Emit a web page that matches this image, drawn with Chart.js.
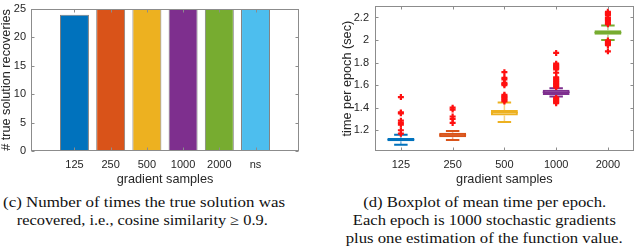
<!DOCTYPE html>
<html><head><meta charset="utf-8">
<script src="https://cdn.jsdelivr.net/npm/chart.js@4"></script>
<style>
html,body{margin:0;padding:0;background:#fff;width:640px;height:246px;overflow:hidden;position:relative}
canvas{position:absolute;top:0}
#c1{left:0}
#c2{left:320px}
.cap{position:absolute;white-space:nowrap;font-family:"Liberation Serif","Times New Roman",Times,serif;font-size:14.5px;color:#111;line-height:18px;height:18px}
</style></head><body>
<canvas id="c1" width="320" height="192"></canvas>
<canvas id="c2" width="320" height="192"></canvas>
<div id="caps"></div>
<script>
// ---------- data ----------
const barCategories = ['125','250','500','1000','2000','ns'];
const barValues = [24,25,25,25,25,25];
const barYTicks = [0,5,10,15,20,25];

const boxCategories = ['125','250','500','1000','2000'];
const boxQ1     = [1.102, 1.137, 1.330, 1.512, 2.046];
const boxMedian = [1.117, 1.158, 1.357, 1.537, 2.066];
const boxQ3     = [1.131, 1.177, 1.380, 1.560, 2.086];
const whiskerLo = [1.071, 1.114, 1.274, 1.500, 2.000];
const whiskerHi = [1.160, 1.194, 1.445, 1.572, 2.129];
const outliers125  = [1.170, 1.200, 1.250, 1.265, 1.285, 1.350, 1.358, 1.494];
const outliers250  = [1.265, 1.300, 1.322, 1.383, 1.400];
const outliers500  = [1.455, 1.465, 1.475, 1.485, 1.495, 1.505, 1.515, 1.600, 1.610, 1.620, 1.650, 1.665, 1.715];
const outliers1000 = [1.440, 1.450, 1.460, 1.470, 1.480, 1.490, 1.580, 1.590, 1.600, 1.610, 1.620, 1.630, 1.640, 1.650, 1.660, 1.670, 1.710, 1.740, 1.750, 1.760, 1.770, 1.780, 1.790, 1.886];
const outliers2000 = [1.900, 1.955, 1.965, 1.975, 1.985, 1.995, 2.140, 2.150, 2.170, 2.180, 2.190, 2.200, 2.220, 2.230, 2.240, 2.250];
const boxYTicks = [1.2, 1.4, 1.6, 1.8, 2, 2.2];

const captionLeft = ['(c) Number of times the true solution was', 'recovered, i.e., cosine similarity \u2265 0.9.'];
const captionRight = ['(d) Boxplot of mean time per epoch.', 'Each epoch is 1000 stochastic gradients', 'plus one estimation of the function value.'];

// ---------- styles ----------
const colors = ['#0072BD','#D95319','#EDB120','#7E2F8E','#77AC30','#4DBEEE'];
const textColor = '#262626';
const tickFont = {family:'"Liberation Sans", Arial, sans-serif', size:11};
const titleFont = {family:'"Liberation Sans", Arial, sans-serif', size:12.7, lineHeight:1};
function alpha(hex,a){const n=parseInt(hex.slice(1),16);return `rgba(${n>>16},${(n>>8)&255},${n&255},${a})`;}
function noPad(s){s.paddingTop=0;s.paddingBottom=0;s.paddingLeft=0;s.paddingRight=0;}

const frame = {
  id:'frame',
  afterDatasetsDraw(chart){
    const {ctx, chartArea:a, scales:{x,y}} = chart;
    const L=Math.round(a.left)+0.5, R=Math.round(a.right)-0.5, T=Math.round(a.top)+0.5, B=Math.round(a.bottom)-0.5;
    ctx.save();
    ctx.strokeStyle='#8c8c8c'; ctx.lineWidth=1;
    ctx.strokeRect(L,T,R-L,B-T);
    ctx.beginPath();
    y.ticks.forEach(t=>{const py=Math.round(y.getPixelForValue(t.value))+0.5;ctx.moveTo(L,py);ctx.lineTo(L+3,py);ctx.moveTo(R,py);ctx.lineTo(R-3,py);});
    x.ticks.forEach(t=>{const px=Math.round(x.getPixelForValue(t.value))+0.5;ctx.moveTo(px,B);ctx.lineTo(px,B-3);ctx.moveTo(px,T);ctx.lineTo(px,T+3);});
    ctx.stroke();
    ctx.restore();
  }
};

// ---------- left bar chart ----------
new Chart(document.getElementById('c1'), {
  type:'bar',
  data:{datasets:[{
    data: barValues.map((v,i)=>({x:i+1,y:v})),
    backgroundColor: colors,
    borderColor:'rgba(0,0,0,0.5)', borderWidth:1, borderSkipped:false,
    barPercentage:0.8, categoryPercentage:1
  }]},
  options:{
    responsive:false, animation:false, devicePixelRatio:1,
    layout:{padding:{top:9,right:21,left:0,bottom:0}},
    plugins:{legend:{display:false},tooltip:{enabled:false}},
    scales:{
      x:{type:'linear', min:-0.2, max:7.2, offset:false,
        grid:{display:false, drawTicks:false, offset:false}, border:{display:false},
        afterBuildTicks:s=>{s.ticks=barCategories.map((c,i)=>({value:i+1}));},
        ticks:{callback:v=>barCategories[v-1], padding:7, font:tickFont, color:textColor, maxRotation:0, autoSkip:false},
        title:{display:true, text:'gradient samples', font:titleFont, color:textColor, padding:{top:0,bottom:6}},
        afterFit:s=>{s.height=41;noPad(s);}
      },
      y:{min:0, max:25,
        grid:{display:false, drawTicks:false}, border:{display:false},
        afterBuildTicks:s=>{s.ticks=barYTicks.map(v=>({value:v}));},
        ticks:{callback:v=>String(v), padding:5, font:tickFont, color:textColor},
        title:{display:true, text:'# true solution recoveries', font:titleFont, color:textColor, padding:0},
        afterFit:s=>{s.width=31;noPad(s);}
      }
    }
  },
  plugins:[frame]
});

// ---------- right box plot ----------
const outlierLists=[outliers125,outliers250,outliers500,outliers1000,outliers2000];
const boxDecor = {
  id:'boxDecor',
  beforeDatasetsDraw(chart){
    const {ctx, scales:{x,y}} = chart;
    ctx.save();
    boxCategories.forEach((c,i)=>{
      const px=x.getPixelForValue(i+1);
      ctx.strokeStyle=alpha(colors[i],0.55); ctx.lineWidth=1.5;
      ctx.beginPath();
      ctx.moveTo(px,y.getPixelForValue(boxQ3[i])); ctx.lineTo(px,y.getPixelForValue(whiskerHi[i]));
      ctx.moveTo(px,y.getPixelForValue(boxQ1[i])); ctx.lineTo(px,y.getPixelForValue(whiskerLo[i]));
      ctx.stroke();
      const l=x.getPixelForValue(i+1-0.13), r=x.getPixelForValue(i+1+0.13);
      ctx.strokeStyle=colors[i]; ctx.lineWidth=2;
      ctx.beginPath();
      ctx.moveTo(l,y.getPixelForValue(whiskerHi[i])); ctx.lineTo(r,y.getPixelForValue(whiskerHi[i]));
      ctx.moveTo(l,y.getPixelForValue(whiskerLo[i])); ctx.lineTo(r,y.getPixelForValue(whiskerLo[i]));
      ctx.stroke();
    });
    ctx.restore();
  },
  afterDatasetDraw(chart,args){
    if(args.index!==0) return;
    const {ctx, scales:{x,y}} = chart;
    ctx.save();
    boxCategories.forEach((c,i)=>{
      const l=x.getPixelForValue(i+1-0.26), r=x.getPixelForValue(i+1+0.26);
      const py=y.getPixelForValue(boxMedian[i]);
      ctx.strokeStyle=colors[i]; ctx.lineWidth=1.5;
      ctx.beginPath(); ctx.moveTo(l,py); ctx.lineTo(r,py); ctx.stroke();
    });
    ctx.restore();
  }
};

const outlierPoints=[];
outlierLists.forEach((arr,i)=>arr.forEach(v=>outlierPoints.push({x:i+1,y:v})));

new Chart(document.getElementById('c2'), {
  type:'bar',
  data:{datasets:[{
    data: boxCategories.map((c,i)=>({x:i+1,y:[boxQ1[i],boxQ3[i]]})),
    backgroundColor: boxCategories.map((c,i)=>alpha(colors[i],0.22)),
    borderColor: colors.slice(0,5), borderWidth:2, borderSkipped:false,
    barPercentage:0.52, categoryPercentage:1
  },{
    type:'scatter',
    data: outlierPoints,
    pointStyle:'cross', radius:3, borderWidth:2.2, borderColor:'#ff1010', backgroundColor:'#ff1010'
  }]},
  options:{
    responsive:false, animation:false, devicePixelRatio:1,
    layout:{padding:{top:1,right:1,left:21,bottom:0}},
    plugins:{legend:{display:false},tooltip:{enabled:false}},
    scales:{
      x:{type:'linear', min:0.5, max:5.5, offset:false,
        grid:{display:false, drawTicks:false, offset:false}, border:{display:false},
        afterBuildTicks:s=>{s.ticks=boxCategories.map((c,i)=>({value:i+1}));},
        ticks:{callback:v=>boxCategories[v-1], padding:7, font:tickFont, color:textColor, maxRotation:0, autoSkip:false},
        title:{display:true, text:'gradient samples', font:titleFont, color:textColor, padding:{top:0,bottom:6}},
        afterFit:s=>{s.height=41;noPad(s);}
      },
      y:{min:1.016, max:2.3,
        grid:{display:false, drawTicks:false}, border:{display:false},
        afterBuildTicks:s=>{s.ticks=boxYTicks.map(v=>({value:v}));},
        ticks:{callback:v=>String(v), padding:6, font:tickFont, color:textColor},
        title:{display:true, text:'time per epoch (sec)', font:titleFont, color:textColor, padding:0},
        afterFit:s=>{s.width=34;noPad(s);}
      }
    }
  },
  plugins:[boxDecor, frame]
});

// ---------- captions ----------
const capLayout = [
  {lines:captionLeft, cx:[144,142.6], w:[282,251]},
  {lines:captionRight, cx:[484.5,484.6,484.5], w:[243,263,277]}
];
const lineY=[202,220,238];
const mctx=document.createElement('canvas').getContext('2d');
mctx.font='14.5px "Liberation Serif", "Times New Roman", serif';
const capsDiv=document.getElementById('caps');
capLayout.forEach(g=>g.lines.forEach((txt,k)=>{
  const d=document.createElement('div');
  d.className='cap'; d.textContent=txt;
  const mw=mctx.measureText(txt).width;
  const s=g.w[k]/mw;
  d.style.left=(g.cx[k]-mw/2)+'px';
  d.style.top=(lineY[k]-9)+'px';
  d.style.transform=`scaleX(${s})`;
  d.style.transformOrigin=`${mw/2}px 50%`;
  capsDiv.appendChild(d);
}));
</script>
</body></html>
